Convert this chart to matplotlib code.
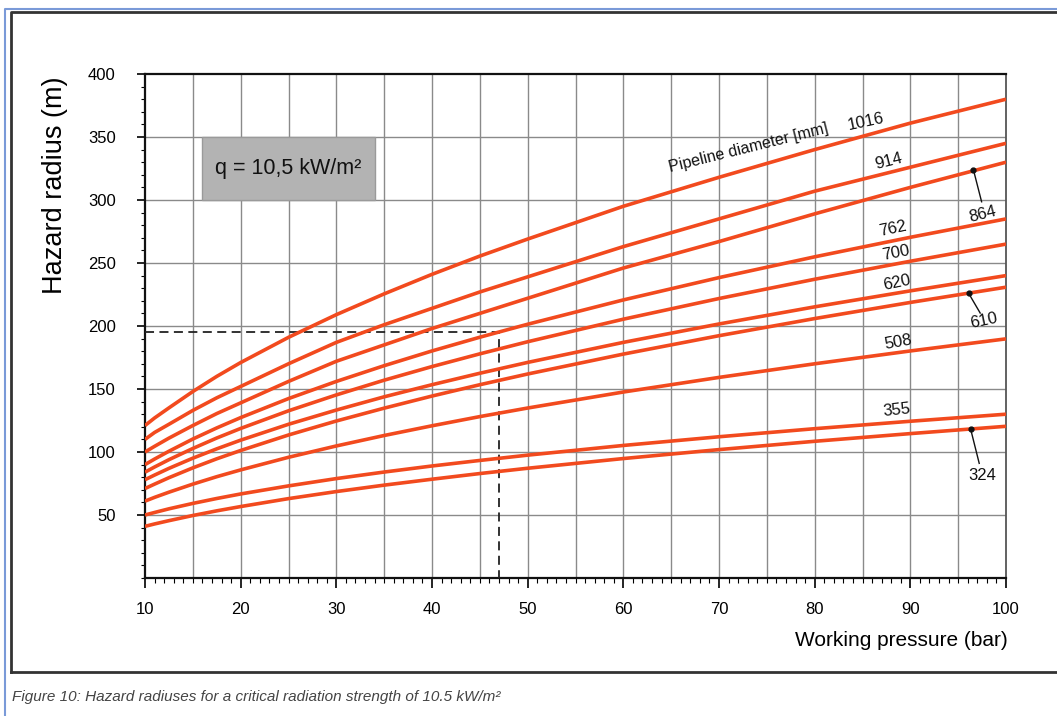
import matplotlib
matplotlib.use("Agg")
import matplotlib.pyplot as plt
from matplotlib.patches import Rectangle
import numpy as np

plt.rcParams['font.family'] = ['Liberation Sans', 'DejaVu Sans']

# ---- data ----
pressure = [10, 11, 12.5, 15, 17.5, 20, 25, 30, 35, 40, 45, 50, 60, 70, 80, 90, 100]
r_1016 = [121, 127, 135, 148, 160, 171, 191, 209, 225.5, 241, 255.5, 269, 295, 318, 340, 361, 380]
r_914 = [110, 115.5, 122, 133, 143, 152, 170, 187, 201, 214, 227, 239, 263, 285, 307, 326, 345]
r_864 = [100, 104.5, 111, 121, 130.5, 139, 156, 172, 185, 198, 210, 222, 246, 267, 289, 310, 330]
r_762 = [90, 94.4, 100.6, 110.3, 119.1, 127.3, 142.4, 156, 168.5, 180.2, 191.1, 201.4, 220.7, 238.4, 254.9, 270.4, 285]
r_700 = [84, 88.1, 93.9, 102.8, 111.1, 118.7, 132.7, 145.3, 157, 167.8, 177.9, 187.5, 205.4, 221.8, 237.1, 251.4, 265]
r_620 = [78, 81.7, 87, 95.1, 102.5, 109.4, 122, 133.3, 143.8, 153.4, 162.5, 171.1, 187, 201.6, 215.2, 227.9, 240]
r_610 = [71, 74.5, 79.6, 87.4, 94.6, 101.2, 113.5, 124.6, 134.8, 144.4, 153.4, 161.9, 177.7, 192.3, 205.9, 218.7, 230.8]
r_508 = [61, 64, 68.1, 74.5, 80.4, 85.8, 95.8, 104.8, 113.1, 120.8, 128.1, 134.9, 147.6, 159.2, 170, 180.2, 189.8]
r_355 = [50, 52, 54.9, 59.2, 63.1, 66.7, 73.1, 78.9, 84.1, 88.9, 93.3, 97.5, 105.2, 112.1, 118.5, 124.4, 130]
r_324 = [41, 42.9, 45.5, 49.6, 53.3, 56.7, 63, 68.6, 73.7, 78.4, 82.9, 87.1, 94.8, 101.9, 108.5, 114.6, 120.4]

series = [r_1016, r_914, r_864, r_762, r_700, r_620, r_610, r_508, r_355, r_324]

x_ticks = [10, 20, 30, 40, 50, 60, 70, 80, 90, 100]
y_ticks = [50, 100, 150, 200, 250, 300, 350, 400]

# example reading (dashed guide)
ex_pressure = 47
ex_radius = 195

# curve labels: text, x, y, rotation
curve_labels = [
    ("1016", 85.4, 362, 12),
    ("914", 87.7, 331, 14),
    ("762", 88.2, 277.5, 12),
    ("700", 88.5, 258, 11),
    ("620", 88.6, 234, 12),
    ("508", 88.7, 187.5, 10),
    ("355", 88.6, 133, 6),
]
# labels with leader lines: text, dot (x, y), line end (x, y), label (x, y), rotation
leader_labels = [
    ("864", (96.6, 323.8), (97.45, 298.6), (97.6, 289), 14),
    ("610", (96.1, 225.9), (97.3, 210.3), (97.7, 204), 12),
    ("324", (96.3, 118.3), (97.2, 91), (97.5, 81), 0),
]

line_color = '#f24a1e'

fig = plt.figure(figsize=(10.57, 7.16), dpi=100)
ax = fig.add_axes([145/1057, 1-578/716, (1006-145)/1057, (578-74)/716])

ax.set_xlim(10, 100)
ax.set_ylim(0, 400)

# grid
for gx in np.arange(15, 100, 5):
    ax.axvline(gx, color='#8a8a8a', lw=1.0, zorder=1)
for gy in np.arange(50, 400, 50):
    ax.axhline(gy, color='#8a8a8a', lw=1.0, zorder=1)

# gray box
ax.add_patch(Rectangle((16, 300), 18, 50, facecolor='#b3b3b3', edgecolor='#9a9a9a',
                       lw=1, zorder=2))
ax.text(25, 325, "q = 10,5 kW/m²", ha='center', va='center', fontsize=15.5, color='#111111',
        zorder=3)

# dashed guide
ax.plot([10, ex_pressure, ex_pressure], [ex_radius, ex_radius, 0], ls=(0, (5, 3)),
        color='#222222', lw=1.3, zorder=3)

for s in series:
    ax.plot(pressure, s, color=line_color, lw=2.6, zorder=4, solid_capstyle='butt',
            solid_joinstyle='round')

for t, x, y, rot in curve_labels:
    ax.text(x, y, t, ha='center', va='center', rotation=rot, rotation_mode='anchor',
            fontsize=12, color='#111111', zorder=5)

for t, (dx, dy), (ex, ey), (lx, ly), rot in leader_labels:
    ax.plot([dx, ex], [dy, ey], color='#111111', lw=1.0, zorder=5)
    ax.plot([dx], [dy], 'o', color='#111111', ms=3.5, zorder=6)
    ax.text(lx, ly, t, ha='center', va='center', rotation=rot, rotation_mode='anchor',
            fontsize=12, color='#111111', zorder=5)

ax.text(73.1, 341, "Pipeline diameter [mm]", ha='center', va='center', rotation=14,
        rotation_mode='anchor', fontsize=11.5, color='#111111', zorder=5)

# ticks
ax.set_xticks(x_ticks)
ax.set_xticks(np.arange(10, 101, 1), minor=True)
ax.set_yticks(y_ticks)
ax.set_yticks(np.arange(0, 401, 10), minor=True)
ax.tick_params(axis='x', which='major', length=7, width=1.2, direction='out', pad=10,
               labelsize=12)
ax.tick_params(axis='x', which='minor', length=3.5, width=0.8, direction='out')
ax.tick_params(axis='y', which='major', length=6, width=1.2, direction='out', pad=15,
               labelsize=12)
ax.tick_params(axis='y', which='minor', length=3, width=0.8, direction='out')
for sp in ax.spines.values():
    sp.set_linewidth(1.6)
    sp.set_color('#111111')
ax.spines['right'].set_color('#555555')
ax.spines['right'].set_linewidth(1.3)

fig.text(55/1057, 1-185/716, "Hazard radius (m)", rotation=90, ha='center', va='center',
         fontsize=19.5)
fig.text(901/1057, 1-640/716, "Working pressure (bar)", ha='center', va='center',
         fontsize=15)

# outer frames
fig.add_artist(plt.Line2D([11/1057, 11/1057, 1.0], [1-672/716, 1-12/716, 1-12/716],
                          transform=fig.transFigure, color='#333333', lw=2))
fig.add_artist(plt.Line2D([11/1057, 1.0], [1-672/716, 1-672/716],
                          transform=fig.transFigure, color='#333333', lw=2))
fig.add_artist(plt.Line2D([5/1057, 5/1057, 1.0], [0, 1-9/716, 1-9/716],
                          transform=fig.transFigure, color='#7a9ad8', lw=1.5))

fig.text(12/1057, 1-697/716,
         "Figure 10: Hazard radiuses for a critical radiation strength of 10.5 kW/m²",
         ha='left', va='center', fontsize=11, style='italic', color='#444444')

fig.savefig("out.png", dpi=100)
